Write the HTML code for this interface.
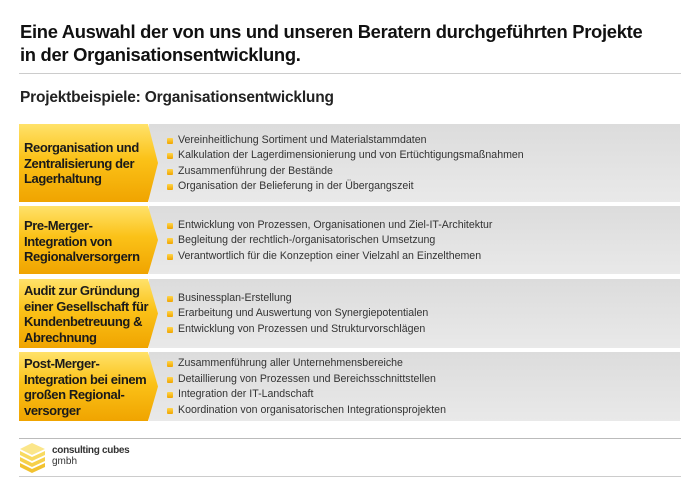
<!DOCTYPE html>
<html><head><meta charset="utf-8"><style>
body{margin:0;width:700px;height:484px;background:#fff;position:relative;font-family:"Liberation Sans",Arial,sans-serif;overflow:hidden}
.a{position:absolute}
h1{position:absolute;left:20px;top:20px;margin:0;font-size:18.4px;line-height:23px;font-weight:bold;color:#111;letter-spacing:-0.3px}
.sub{left:20px;top:89px;font-size:15.5px;font-weight:bold;color:#222;letter-spacing:-0.2px}
.row{position:absolute;left:19px;width:661px}
.gray{position:absolute;left:130px;right:0;top:0;bottom:0;background:linear-gradient(#dcdcdc,#e9e9e9)}
.yel{position:absolute;left:0;top:0;bottom:0;width:139px;background:linear-gradient(#ffe26a 0%,#fbc218 45%,#f0a400 100%);clip-path:polygon(0 0,129px 0,139px 50%,129px 100%,0 100%)}
.lab{position:absolute;left:5px;font-size:13px;font-weight:bold;line-height:15.5px;color:#1a1a1a;letter-spacing:-0.4px}
.it{position:absolute;left:159px;font-size:10.6px;color:#333;white-space:nowrap}
.it:before{content:"";position:absolute;left:-11px;top:4px;width:6px;height:6px;background:linear-gradient(#ffd54a,#f0a500);border-radius:1px}
</style></head><body>
<h1>Eine Auswahl der von uns und unseren Beratern durchgeführten Projekte<br>in der Organisationsentwicklung.</h1>
<div class="a" style="left:19px;top:73px;width:662px;height:1px;background:#ccc"></div>
<div class="a sub">Projektbeispiele: Organisationsentwicklung</div>

<div class="row" style="top:124px;height:78px"><div class="gray"></div><div class="yel"></div>
<div class="lab" style="top:16px">Reorganisation und<br>Zentralisierung der<br>Lagerhaltung</div>
<div class="it" style="top:10px">Vereinheitlichung Sortiment und Materialstammdaten</div>
<div class="it" style="top:25px">Kalkulation der Lagerdimensionierung und von Ertüchtigungsmaßnahmen</div>
<div class="it" style="top:41px">Zusammenführung der Bestände</div>
<div class="it" style="top:56px">Organisation der Belieferung in der Übergangszeit</div></div>

<div class="row" style="top:206px;height:68px"><div class="gray"></div><div class="yel"></div>
<div class="lab" style="top:12px">Pre-Merger-<br>Integration von<br>Regionalversorgern</div>
<div class="it" style="top:13px">Entwicklung von Prozessen, Organisationen und Ziel-IT-Architektur</div>
<div class="it" style="top:28px">Begleitung der rechtlich-/organisatorischen Umsetzung</div>
<div class="it" style="top:44px">Verantwortlich für die Konzeption einer Vielzahl an Einzelthemen</div></div>

<div class="row" style="top:279px;height:69px"><div class="gray"></div><div class="yel"></div>
<div class="lab" style="top:4px">Audit zur Gründung<br>einer Gesellschaft für<br>Kundenbetreuung &amp;<br>Abrechnung</div>
<div class="it" style="top:13px">Businessplan-Erstellung</div>
<div class="it" style="top:28px">Erarbeitung und Auswertung von Synergiepotentialen</div>
<div class="it" style="top:44px">Entwicklung von Prozessen und Strukturvorschlägen</div></div>

<div class="row" style="top:352px;height:69px"><div class="gray"></div><div class="yel"></div>
<div class="lab" style="top:4px">Post-Merger-<br>Integration bei einem<br>großen Regional-<br>versorger</div>
<div class="it" style="top:5px">Zusammenführung aller Unternehmensbereiche</div>
<div class="it" style="top:21px">Detaillierung von Prozessen und Bereichsschnittstellen</div>
<div class="it" style="top:36px">Integration der IT-Landschaft</div>
<div class="it" style="top:52px">Koordination von organisatorischen Integrationsprojekten</div></div>

<div class="a" style="left:19px;top:438px;width:662px;height:1px;background:#bbb"></div>
<svg class="a" style="left:18px;top:443px" width="30" height="30" viewBox="0 0 30 30">
<polygon points="2,20 14,26 27,20 27,24 14,30 2,24" fill="#f2c230"/>
<polygon points="2,14 14,20 27,14 27,18 14,24 2,18" fill="#f6d04a"/>
<polygon points="2,8 14,14 27,8 27,12 14,18 2,12" fill="#f8da60"/>
<polygon points="2,6 14,0 27,6 14,12" fill="#fbe68a"/>
</svg>
<div class="a" style="left:52px;top:446px;font-size:10px;line-height:10.5px;color:#333;font-weight:bold;letter-spacing:-0.3px">consulting cubes</div>
<div class="a" style="left:52px;top:457px;font-size:10px;line-height:10.5px;color:#333">gmbh</div>
<div class="a" style="left:19px;top:476px;width:662px;height:1px;background:#ccc"></div>
</body></html>
